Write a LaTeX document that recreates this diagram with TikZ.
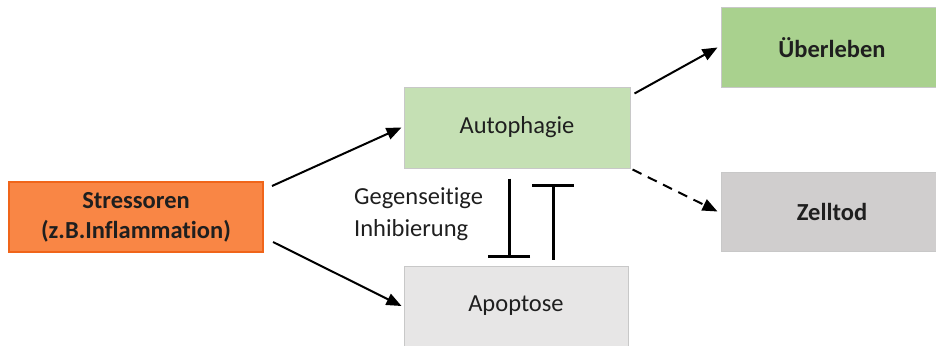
\documentclass[tikz,border=0pt]{standalone}
\usepackage{fontspec}
\setmainfont{Carlito}[Ligatures=NoCommon]
\usetikzlibrary{arrows.meta}
\definecolor{orfill}{HTML}{F98645}
\definecolor{ordraw}{HTML}{F0651A}
\definecolor{grlight}{HTML}{C5E0B4}
\definecolor{grmid}{HTML}{A9D18E}
\definecolor{gylight}{HTML}{E7E6E6}
\definecolor{gymid}{HTML}{D0CECE}
\definecolor{edge}{HTML}{C8C8C8}
\definecolor{txt}{HTML}{1F1F1F}
\tikzset{
  box/.style={draw=edge, line width=1pt, inner sep=0pt, align=center,
    font=\fontsize{24.5}{31}\selectfont, text=txt},
  arr/.style={line width=2pt, -{Triangle[length=15pt,width=12pt]}},
  inh/.style={line width=3pt, line cap=butt, -{Bar[width=42pt]}},
}
\begin{document}
\begin{tikzpicture}[x=1pt,y=-1pt]
\useasboundingbox (0,0) rectangle (936,345);
\fill[white] (0,0) rectangle (936,345);
\node[box, draw=ordraw, line width=2pt, fill=orfill, minimum width=254pt, minimum height=70pt,
  font=\fontsize{24.5}{30}\selectfont\bfseries] (s) at (136,217) {Stressoren\\(z.B.Inflammation)};
\node[box, fill=grlight, minimum width=226pt, minimum height=81pt] (a) at (517,127.5) {Autophagie};
\node[box, fill=gylight, minimum width=224pt, minimum height=80pt] (p) at (516,306) {Apoptose};
\node[box, fill=grmid, minimum width=222pt, minimum height=79pt, font=\fontsize{24.5}{31}\selectfont\bfseries] (u) at (832,47.5) {Überleben};
\node[box, fill=gymid, minimum width=222pt, minimum height=79pt, font=\fontsize{24.5}{31}\selectfont\bfseries] (z) at (832,211.5) {Zelltod};
\node[anchor=west, align=left, inner sep=0pt, text=txt, font=\fontsize{24.5}{32}\selectfont] (g) at (354,214) {Gegenseitige\\Inhibierung};
\draw[arr] ([xshift=8pt,yshift=-5pt]s.north east) -- ([xshift=-2pt]a.west);
\draw[arr] ([xshift=9pt,yshift=11pt]s.south east) -- ([xshift=-2pt]p.west);
\draw[arr] ([xshift=4pt,yshift=-7pt]a.north east) -- ([xshift=-3pt]u.west);
\draw[arr, dash pattern=on 10pt off 7pt] ([xshift=2pt,yshift=-1pt]a.south east) -- ([xshift=-3pt]z.west);
\draw[inh] ([xshift=-8pt,yshift=-10pt]a.south) -- ([xshift=-7pt,yshift=8pt]p.north);
\draw[inh] ([xshift=37pt,yshift=6pt]p.north) -- ([xshift=36pt,yshift=-15pt]a.south);
\end{tikzpicture}
\end{document}
